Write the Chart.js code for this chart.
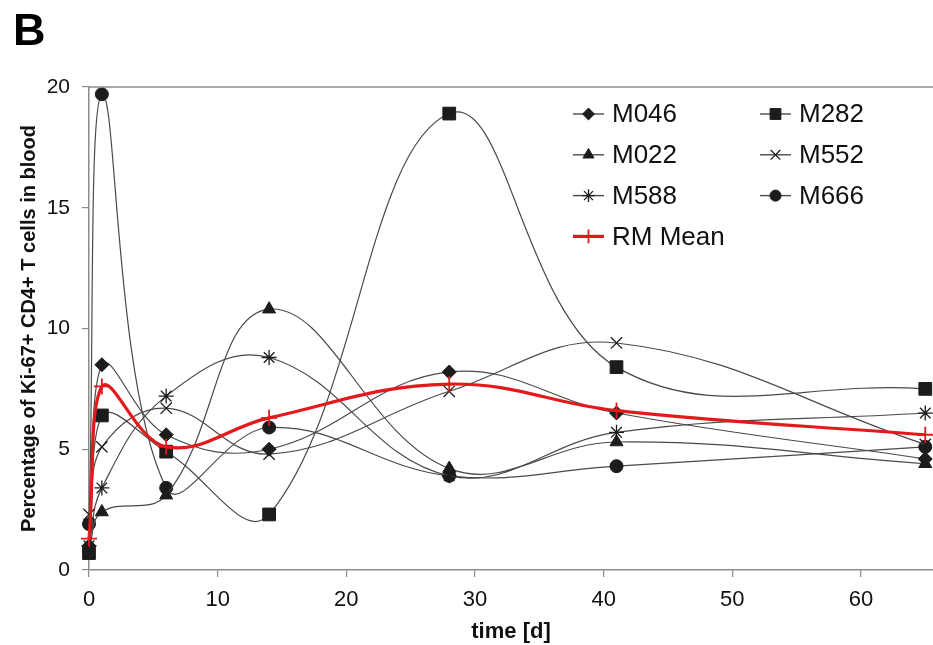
<!DOCTYPE html>
<html><head><meta charset="utf-8">
<script src="https://cdn.jsdelivr.net/npm/chart.js@4.4.1/dist/chart.umd.min.js"></script>
<style>html,body{margin:0;padding:0;background:#fff}canvas{display:block}</style>
</head><body>
<canvas id="c" width="933" height="645"></canvas>
<script>
// ---- data ----
const days = [0, 1, 6, 14, 28, 41, 65];
const xTickValues = [0, 10, 20, 30, 40, 50, 60];
const yTickValues = [0, 5, 10, 15, 20];
const M046 = [1.0, 8.5, 5.6, 5.0, 8.2, 6.5, 4.6];
const M282 = [0.7, 6.4, 4.9, 2.3, 18.9, 8.4, 7.5];
const M022 = [0.9, 2.4, 3.1, 10.8, 4.2, 5.3, 4.4];
const M552 = [2.3, 5.1, 6.7, 4.8, 7.4, 9.4, 5.2];
const M588 = [1.0, 3.4, 7.2, 8.8, 3.9, 5.7, 6.5];
const M666 = [1.9, 19.7, 3.4, 5.9, 3.9, 4.3, 5.1];
const RM_Mean = [1.3, 7.6, 5.1, 6.3, 7.7, 6.6, 5.6];
const seriesNames = ['M046', 'M282', 'M022', 'M552', 'M588', 'M666', 'RM Mean'];
const xTitle = 'time [d]';
const yTitle = 'Percentage of Ki-67+ CD4+ T cells in blood';
const panelLabel = 'B';

// ---- styles ----
const FONT = '"Liberation Sans", Arial, sans-serif';
const GREY_LINE = '#4a4a4a';
const MARK = '#1c1c1c';
const RED = '#e3191c';
const AXIS = '#8c8c8c';

function pts(vals) { return days.map((d, i) => ({ x: d, y: vals[i] })); }

const styles = {
  'M046': { pointStyle: 'rectRot', r: 7, bw: 1 },
  'M282': { pointStyle: 'rect', r: 9, bw: 1 },
  'M022': { pointStyle: 'triangle', r: 7.5, bw: 1 },
  'M552': { pointStyle: 'crossRot', r: 8, bw: 1.3 },
  'M588': { pointStyle: 'star', r: 7.5, bw: 1.3 },
  'M666': { pointStyle: 'circle', r: 6.5, bw: 1 },
  'RM Mean': { pointStyle: 'cross', r: 8, bw: 1.8 }
};
const valuesByName = { 'M046': M046, 'M282': M282, 'M022': M022, 'M552': M552, 'M588': M588, 'M666': M666, 'RM Mean': RM_Mean };

function makeDataset(name) {
  const st = styles[name];
  const isMean = name === 'RM Mean';
  return {
    label: name,
    data: pts(valuesByName[name]),
    borderColor: isMean ? RED : GREY_LINE,
    borderWidth: isMean ? 3.2 : 1.2,
    backgroundColor: isMean ? RED : MARK,
    pointStyle: st.pointStyle,
    pointRadius: st.r,
    pointHoverRadius: st.r,
    pointBorderWidth: st.bw,
    pointBorderColor: isMean ? RED : MARK,
    pointBackgroundColor: isMean ? RED : MARK,
    tension: 0.4,
    fill: false,
    clip: false
  };
}
// RM Mean first so it is drawn on top
const datasets = ['RM Mean', 'M046', 'M282', 'M022', 'M552', 'M588', 'M666'].map(makeDataset);

function drawMarker(ctx, st, x, y, color, scale) {
  ctx.save();
  ctx.fillStyle = color; ctx.strokeStyle = color; ctx.lineWidth = st.bw;
  const opts = { pointStyle: st.pointStyle, radius: st.r * scale, rotation: 0, borderWidth: st.bw };
  if (window.Chart && Chart.helpers && Chart.helpers.drawPoint) {
    Chart.helpers.drawPoint(ctx, opts, x, y);
  }
  ctx.restore();
}

const extrasPlugin = {
  id: 'extras',
  afterDraw(chart) {
    const { ctx, chartArea: a } = chart;
    ctx.save();
    // top frame line
    ctx.strokeStyle = AXIS; ctx.lineWidth = 1.5;
    ctx.beginPath(); ctx.moveTo(a.left, a.top); ctx.lineTo(a.right, a.top); ctx.stroke();
    // panel label
    ctx.fillStyle = '#000'; ctx.font = 'bold 45px ' + FONT; ctx.textBaseline = 'alphabetic'; ctx.textAlign = 'left';
    ctx.fillText(panelLabel, 13, 45);
    // legend (two columns, row-wise)
    const colX = [a.left + 484, a.left + 671];
    const row0 = a.top + 27, rowH = 40.8, lineLen = 31;
    ctx.font = '26px ' + FONT; ctx.textBaseline = 'middle';
    seriesNames.forEach((name, i) => {
      const col = i % 2, row = Math.floor(i / 2);
      const x0 = colX[col], y = row0 + row * rowH;
      const isMean = name === 'RM Mean';
      const color = isMean ? RED : GREY_LINE;
      ctx.strokeStyle = color; ctx.lineWidth = isMean ? 3.2 : 1.4;
      ctx.beginPath(); ctx.moveTo(x0, y); ctx.lineTo(x0 + lineLen, y); ctx.stroke();
      drawMarker(ctx, styles[name], x0 + lineLen / 2, y, isMean ? RED : MARK, 0.85);
      ctx.fillStyle = '#111';
      ctx.fillText(name, x0 + lineLen + 8, y + 1);
    });
    ctx.restore();
  }
};

new Chart(document.getElementById('c'), {
  type: 'line',
  data: { datasets },
  plugins: [extrasPlugin],
  options: {
    responsive: false,
    animation: false,
    devicePixelRatio: 1,
    layout: { autoPadding: false, padding: { top: 87, left: 0, right: 0, bottom: 0 } },
    plugins: { legend: { display: false }, tooltip: { enabled: false } },
    scales: {
      x: {
        type: 'linear', min: 0, max: 65.6,
        afterBuildTicks: s => { s.ticks = xTickValues.map(v => ({ value: v })); },
        afterFit: s => { s.height = 75; },
        border: { color: AXIS, width: 1.5 },
        grid: { drawOnChartArea: false, tickLength: 7, color: AXIS, lineWidth: 1.2 },
        ticks: { font: { family: FONT, size: 22 }, color: '#111', padding: 10, maxRotation: 0, autoSkip: false },
        title: { display: true, text: xTitle, color: '#111', font: { family: FONT, size: 22, weight: 'bold' }, padding: { top: 0, bottom: 0 } }
      },
      y: {
        type: 'linear', min: 0, max: 20,
        afterBuildTicks: s => { s.ticks = yTickValues.map(v => ({ value: v })); },
        afterFit: s => { s.width = 89; },
        border: { color: AXIS, width: 1.5 },
        grid: { drawOnChartArea: false, tickLength: 7, color: AXIS, lineWidth: 1.2 },
        ticks: { font: { family: FONT, size: 21 }, color: '#111', padding: 12 },
        title: { display: true, text: yTitle, color: '#111', font: { family: FONT, size: 20, weight: 'bold' }, padding: { top: 17, bottom: 0 } }
      }
    }
  }
});
</script>
</body></html>
